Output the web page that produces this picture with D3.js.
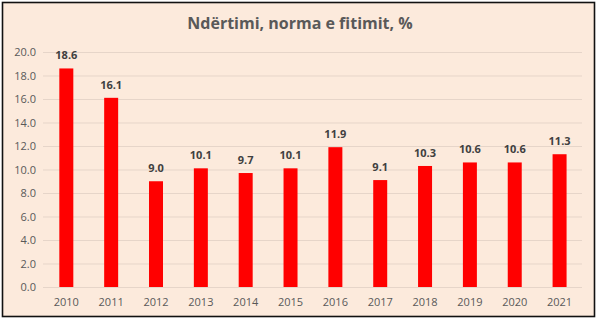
<!DOCTYPE html>
<html><head><meta charset="utf-8">
<script src="https://cdn.jsdelivr.net/npm/d3@7"></script>
<style>html,body{margin:0;padding:0;background:#fff;}svg{display:block;}</style>
</head><body>
<script>
const years = ["2010","2011","2012","2013","2014","2015","2016","2017","2018","2019","2020","2021"];
const values = [18.6,16.1,9.0,10.1,9.7,10.1,11.9,9.1,10.3,10.6,10.6,11.3];
const yTicks = [0,2,4,6,8,10,12,14,16,18,20];
const title = "Ndërtimi, norma e fitimit, %";

const W = 599, H = 321;
const svg = d3.select("body").append("svg").attr("width", W).attr("height", H);
svg.append("rect").attr("x",0).attr("y",0).attr("width",W).attr("height",H).attr("fill","#fff");
svg.append("rect").attr("x",2.5).attr("y",2.5).attr("width",592).attr("height",314)
  .attr("fill","#FCEADC").attr("stroke","#111").attr("stroke-width",1.6);

const x = d3.scaleBand().domain(years).range([43.9, 582]).paddingInner(0.688).paddingOuter(0.344);
const y = d3.scaleLinear().domain([0,20]).range([287, 52]);
const font = "'Open Sans', 'Liberation Sans', sans-serif";

// grid
svg.append("g").selectAll("line").data(yTicks).join("line")
  .attr("x1",43).attr("x2",582).attr("y1",d=>y(d)+0.5).attr("y2",d=>y(d)+0.5)
  .attr("stroke","#E6D5C9").attr("stroke-width",1);

// y axis labels
const yAxis = d3.axisLeft(y).tickValues(yTicks).tickFormat(d3.format(".1f")).tickSize(0).tickPadding(0);
const ga = svg.append("g").attr("transform","translate(36,0)").call(yAxis);
ga.select(".domain").remove();
ga.selectAll("text").attr("font-family",font).attr("font-size","11px").attr("fill","#595959");

// x axis labels
const xAxis = d3.axisBottom(x).tickSize(0).tickPadding(0);
const gx = svg.append("g").attr("transform","translate(0,298)").call(xAxis);
gx.select(".domain").remove();
gx.selectAll("text").attr("font-family",font).attr("font-size","11px").attr("fill","#595959");

// bars
svg.append("g").selectAll("rect").data(values).join("rect")
  .attr("x",(d,i)=>x(years[i])).attr("width",x.bandwidth())
  .attr("y",d=>y(d)).attr("height",d=>y(0)-y(d)).attr("fill","#FF0000");

// labels
svg.append("g").selectAll("text").data(values).join("text")
  .attr("x",(d,i)=>x(years[i])+x.bandwidth()/2).attr("y",d=>y(d)-9)
  .attr("text-anchor","middle").attr("font-family",font).attr("font-size","11px")
  .attr("font-weight","bold").attr("fill","#404040").text(d=>d3.format(".1f")(d));

svg.append("text").attr("x",300).attr("y",29).attr("text-anchor","middle")
  .attr("font-family",font).attr("font-size","16px").attr("font-weight","bold")
  .attr("fill","#595959").text(title);
</script>
</body></html>
